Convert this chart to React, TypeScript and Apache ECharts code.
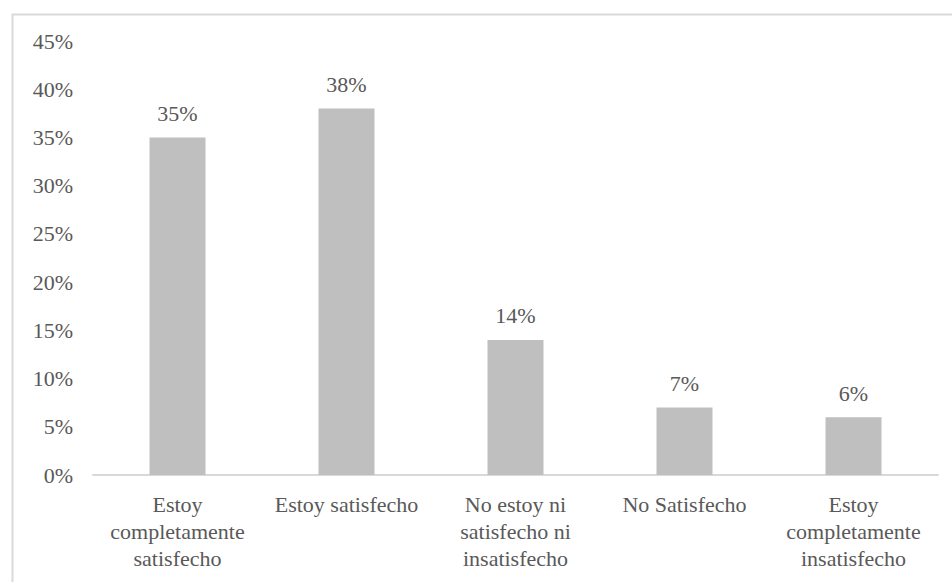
import React, { useEffect, useRef } from "react";
import * as echarts from "echarts";

const categories = [
  "Estoy\ncompletamente\nsatisfecho",
  "Estoy satisfecho",
  "No estoy ni\nsatisfecho ni\ninsatisfecho",
  "No Satisfecho",
  "Estoy\ncompletamente\ninsatisfecho",
];
const percentages = [35, 38, 14, 7, 6];
const yMin = 0;
const yMax = 45;
const yStep = 5;

const TEXT = "#595959";
const FONT = "Liberation Serif";
const FONT_SIZE = 22;

export default function App() {
  const ref = useRef<HTMLDivElement>(null);

  useEffect(() => {
    if (!ref.current) return;
    const chart = echarts.init(ref.current, undefined, { renderer: "svg" });
    chart.setOption({
      animation: false,
      backgroundColor: "#ffffff",
      textStyle: { fontFamily: FONT },
      graphic: [
        {
          type: "rect",
          left: 10,
          top: 12,
          shape: { width: 980, height: 620 },
          style: { fill: "none", stroke: "#d9d9d9", lineWidth: 2 },
          silent: true,
        },
      ],
      grid: { left: 93, right: 14, top: 41, bottom: 107 },
      xAxis: {
        type: "category",
        data: categories,
        axisTick: { show: false },
        axisLine: { lineStyle: { color: "#d9d9d9", width: 2 } },
        axisLabel: {
          interval: 0,
          color: TEXT,
          fontFamily: FONT,
          fontSize: FONT_SIZE,
          lineHeight: 27,
          margin: 16,
        },
      },
      yAxis: {
        type: "value",
        min: yMin,
        max: yMax,
        interval: yStep,
        axisLine: { show: false },
        axisTick: { show: false },
        splitLine: { show: false },
        axisLabel: {
          color: TEXT,
          fontFamily: FONT,
          fontSize: FONT_SIZE,
          margin: 20,
          formatter: "{value}%",
        },
      },
      series: [
        {
          type: "bar",
          data: percentages,
          barWidth: 56,
          itemStyle: { color: "#bfbfbf" },
          label: {
            show: true,
            position: "top",
            distance: 13,
            color: TEXT,
            fontFamily: FONT,
            fontSize: FONT_SIZE,
            formatter: (p: any) => `${p.value}%`,
          },
        },
      ],
    });
    return () => chart.dispose();
  }, []);

  return (
    <div
      ref={ref}
      style={{ position: "absolute", left: 0, top: 0, width: 952, height: 582 }}
    />
  );
}
